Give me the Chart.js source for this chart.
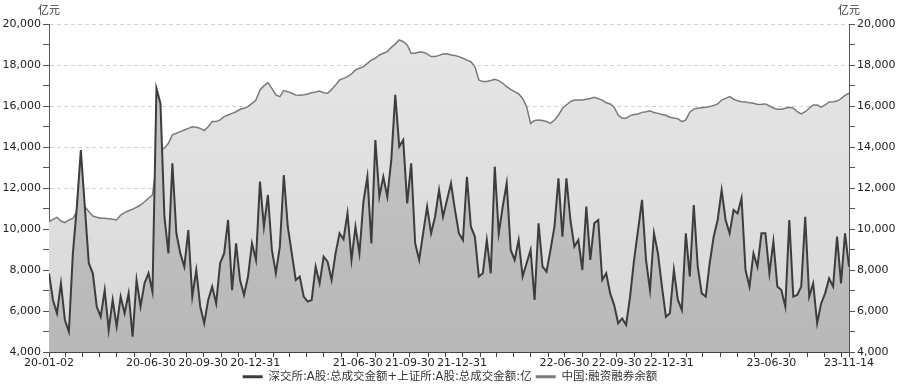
<!DOCTYPE html>
<html>
<head>
<meta charset="utf-8">
<script src="https://cdn.jsdelivr.net/npm/chart.js@4/dist/chart.umd.min.js"></script>
<style>
  html, body { margin: 0; padding: 0; background: #fff; }
  #wrap { width: 900px; height: 387px; }
</style>
</head>
<body>
<div id="wrap"><canvas id="chart"></canvas></div>
<script>
// weekly samples, 2020-01-02 .. 2023-11-14
const startDate = "20-01-02";
const endDate = "23-11-14";

const turnover = [
  7840, 6540, 5890, 7350, 5560, 4990, 8810, 11090, 13850, 11090,
  8330, 7840, 6210, 5720, 7020, 5070, 6540, 5240, 6700, 5890,
  6860, 4750, 7510, 6210, 7350, 7840, 6940, 16860, 16130, 10600,
  8810, 13200, 9790, 8810, 8160, 9950, 6700, 8000, 6210, 5400,
  6540, 7190, 6370, 8330, 8810, 10440, 7020, 9300, 7510, 6780,
  7680, 9300, 8490, 12310, 10110, 11660, 8980, 7840, 9140, 12630,
  10110, 8810, 7510, 7680, 6700, 6460, 6540, 8160, 7350, 8650,
  8410, 7510, 8810, 9790, 9500, 10760, 8490, 10110, 8810, 11330,
  12550, 9300, 14340, 11580, 12550, 11580, 13370, 16540, 14020, 14340,
  11250, 13200, 9300, 8490, 9790, 11090, 9790, 10600, 11900, 10600,
  11420, 12230, 10930, 9790, 9460, 12550, 10110, 9630, 7680, 7840,
  9460, 7840, 13040, 9790, 11090, 12230, 8980, 8490, 9460, 7680,
  8330, 8980, 6540, 10280, 8160, 7920, 8980, 10110, 12470, 9630,
  12470, 10440, 9140, 9460, 8000, 11090, 8490, 10280, 10440, 7510,
  7840, 6860, 6290, 5400, 5640, 5320, 6700, 8490, 9950, 11420,
  8490, 7020, 9790, 8810, 7190, 5720, 5890, 8000, 6540, 6050,
  9790, 7680, 11170, 8160, 6860, 6700, 8330, 9630, 10440, 11900,
  10440, 9790, 10930, 10760, 11500, 8000, 7190, 8810, 8160, 9790,
  9790, 7840, 9380, 7190, 7020, 6210, 10440, 6700, 6780, 7190,
  10600, 6700, 7350, 5400, 6370, 6860, 7590, 7190, 9630, 7350,
  9790, 8160
];

const margin = [
  10360, 10470, 10570, 10390, 10310, 10440, 10520, 10850, 11170, 11090,
  10850, 10630, 10570, 10520, 10520, 10500, 10470, 10440, 10680, 10800,
  10890, 10960, 11060, 11170, 11330, 11500, 11660, 13200, 13850, 13940,
  14180, 14590, 14670, 14750, 14830, 14910, 14990, 14960, 14910, 14800,
  14990, 15240, 15240, 15320, 15480, 15560, 15640, 15720, 15840, 15890,
  15970, 16130, 16290, 16780, 16980, 17140, 16860, 16540, 16460, 16750,
  16700, 16620, 16540, 16520, 16550, 16590, 16650, 16680, 16730, 16650,
  16620, 16810, 17020, 17270, 17350, 17430, 17560, 17760, 17840, 17920,
  18080, 18240, 18330, 18490, 18570, 18650, 18860, 19020, 19220, 19140,
  18980, 18570, 18570, 18630, 18620, 18540, 18410, 18410, 18470, 18540,
  18550, 18490, 18460, 18410, 18330, 18240, 18160, 17920, 17270, 17190,
  17200, 17240, 17300, 17240, 17110, 16940, 16810, 16700, 16590, 16370,
  15970, 15150, 15290, 15320, 15290, 15240, 15150, 15320, 15560, 15890,
  16050, 16210, 16290, 16290, 16290, 16330, 16370, 16420, 16360, 16290,
  16160, 16100, 15940, 15560, 15400, 15400, 15530, 15580, 15610, 15690,
  15720, 15770, 15680, 15640, 15590, 15550, 15450, 15410, 15380, 15240,
  15320, 15700, 15850, 15890, 15920, 15940, 15970, 16020, 16100, 16290,
  16370, 16460, 16330, 16260, 16210, 16200, 16160, 16130, 16070, 16080,
  16100, 16000, 15900, 15840, 15840, 15890, 15940, 15890, 15720, 15610,
  15720, 15890, 16050, 16050, 15940, 16050, 16200, 16210, 16240, 16360,
  16520, 16620
];

const tickLabels = ["20-01-02", "20-06-30", "20-09-30", "20-12-31", "21-06-30", "21-09-30",
  "21-12-31", "22-06-30", "22-09-30", "22-12-31", "23-06-30", "23-11-14"];

const seriesNames = ["深交所:A股:总成交金额+上证所:A股:总成交金额:亿", "中国:融资融券余额"];

function toDay(s) {
  const [y, m, d] = s.split("-").map(Number);
  return (Date.UTC(2000 + y, m - 1, d) - Date.UTC(2020, 0, 2)) / 864e5;
}

const total = toDay(endDate) - toDay(startDate);
const step = total / (turnover.length - 1);

const labelAt = {};
tickLabels.forEach((s) => (labelAt[toDay(s)] = s));

// month starts for the small ticks on the date axis
const xTicks = Object.keys(labelAt).map(Number);
for (let y = 2020; y <= 2023; y++) {
  for (let m = 0; m < 12; m++) {
    const d = (Date.UTC(y, m, 1) - Date.UTC(2020, 0, 2)) / 864e5;
    if (d > 0 && d < total && !xTicks.some((t) => Math.abs(t - d) < 4)) xTicks.push(d);
  }
}
xTicks.sort((a, b) => a - b);

const font = "'DejaVu Sans', 'Noto Sans CJK SC', sans-serif";

function grad(ctx, top, bottom) {
  const area = ctx.chart.chartArea;
  if (!area) return top;
  const g = ctx.chart.ctx.createLinearGradient(0, area.top, 0, area.bottom);
  g.addColorStop(0, top);
  g.addColorStop(1, bottom);
  return g;
}

const unitTitle = {
  id: "unitTitle",
  afterDraw(chart) {
    const { ctx, chartArea } = chart;
    ctx.save();
    ctx.font = "11px " + font;
    ctx.fillStyle = "#333";
    ctx.textAlign = "center";
    ctx.textBaseline = "middle";
    ctx.fillText("亿元", chartArea.left, chartArea.top - 13);
    ctx.fillText("亿元", chartArea.right, chartArea.top - 13);
    ctx.restore();
  },
};

// keep the legend strip short so the plot reaches down like the original
const shortLegend = {
  id: "shortLegend",
  beforeUpdate(chart) {
    const lg = chart.legend;
    if (lg && !lg._short) {
      const fit = lg.fit.bind(lg);
      lg.fit = function () {
        fit();
        this.height = 20;
      };
      lg._short = true;
    }
  },
};

const yAxis = (pos) => ({
  type: "linear",
  position: pos,
  min: 4000,
  max: 20000,
  z: pos === "left" ? 1 : 0,
  afterFit: (s) => (s.width = pos === "left" ? 49 : 51),
  border: { color: "#555", dash: [4, 3] },
  grid: {
    drawOnChartArea: pos === "left",
    color: (c) => (c.tick && c.tick.value % 2000 === 0 && c.tick.value > 4000 ? "rgba(110,110,110,0.3)" : "rgba(0,0,0,0)"),
    tickColor: "#555",
    tickLength: 6,
  },
  ticks: {
    stepSize: 1000,
    padding: 2,
    color: "#222",
    font: { family: font, size: 11 },
    callback: (v) => (v % 2000 === 0 ? v.toLocaleString("en-US") : ""),
  },
});

new Chart(document.getElementById("chart"), {
  type: "line",
  data: {
    datasets: [
      {
        label: seriesNames[0],
        data: turnover.map((v, i) => ({ x: i * step, y: v })),
        borderColor: "#3d3d3d",
        borderWidth: 2,
        backgroundColor: (c) => grad(c, "#c8c8c8", "#b8b8b8"),
        fill: "start",
        pointRadius: 0,
        tension: 0,
      },
      {
        label: seriesNames[1],
        data: margin.map((v, i) => ({ x: i * step, y: v })),
        borderColor: "#7a7a7a",
        borderWidth: 1.5,
        backgroundColor: (c) => grad(c, "#e6e6e6", "#d8d8d8"),
        fill: "start",
        pointRadius: 0,
        tension: 0,
      },
    ],
  },
  options: {
    responsive: true,
    maintainAspectRatio: false,
    animation: false,
    layout: { padding: { top: 24, left: 0, right: 0, bottom: 0 } },
    plugins: {
      tooltip: { enabled: false },
      legend: {
        position: "bottom",
        labels: {
          boxWidth: 20,
          boxHeight: 3,
          padding: 4,
          color: "#333",
          font: { family: font, size: 11.5 },
          generateLabels: (chart) =>
            chart.data.datasets.map((ds, i) => ({
              text: ds.label,
              fillStyle: ds.borderColor,
              strokeStyle: ds.borderColor,
              lineWidth: 0,
              hidden: false,
              fontColor: "#333",
              datasetIndex: i,
            })),
        },
      },
    },
    scales: {
      x: {
        type: "linear",
        min: 0,
        max: total,
        afterBuildTicks: (s) => (s.ticks = xTicks.map((v) => ({ value: v }))),
        afterFit: (s) => (s.height = 15),
        border: { color: "#444" },
        grid: { drawOnChartArea: false, tickColor: "#444", tickLength: 5 },
        ticks: {
          autoSkip: false,
          maxRotation: 0,
          minRotation: 0,
          padding: 0,
          color: "#222",
          font: { family: font, size: 11 },
          callback: (v) => labelAt[v] || "",
        },
      },
      y: yAxis("left"),
      y2: yAxis("right"),
    },
  },
  plugins: [unitTitle, shortLegend],
});
</script>
</body>
</html>
